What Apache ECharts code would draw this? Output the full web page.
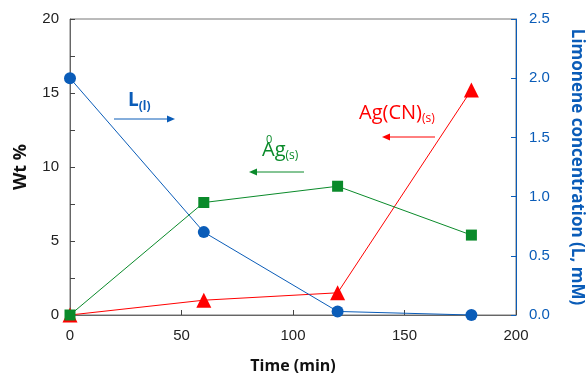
<!DOCTYPE html>
<html>
<head>
<meta charset="utf-8">
<script src="https://cdn.jsdelivr.net/npm/echarts@6/dist/echarts.min.js"></script>
<style>
  html, body { margin: 0; padding: 0; background: #fff; }
  #chart { width: 588px; height: 375px; }
</style>
</head>
<body>
<div id="chart"></div>
<script>
  // data
  var times = [0, 60, 120, 180];
  var agcn = [0, 1.0, 1.5, 15.2];       // Wt %
  var ag0 = [0, 7.6, 8.7, 5.4];         // Wt %
  var limonene = [2.0, 0.70, 0.03, 0.0]; // mM, right axis

  var blue = '#0a5cb8';
  var green = '#0a8a2a';
  var red = '#ff0000';

  function pairs(xs, ys) {
    return xs.map(function (x, i) { return [x, ys[i]]; });
  }

  var chart = echarts.init(document.getElementById('chart'));

  chart.setOption({
    animation: false,
    textStyle: { fontFamily: 'Liberation Sans' },
    grid: {
      left: 70, right: 72, top: 19, bottom: 60,
      outerBoundsMode: 'none', containLabel: false,
      show: true, borderColor: '#777', borderWidth: 1
    },
    xAxis: {
      type: 'value', min: 0, max: 200, interval: 50,
      axisLine: { lineStyle: { color: '#666' } },
      axisTick: { inside: true, length: 5, lineStyle: { color: '#444' } },
      axisLabel: { color: '#222', fontSize: 15, margin: 13 },
      splitLine: { show: false },
      name: 'Time (min)', nameLocation: 'middle', nameGap: 43,
      nameTextStyle: { fontFamily: 'Open Sans', fontWeight: 'bold', fontSize: 16, color: '#111' }
    },
    yAxis: [
      {
        type: 'value', min: 0, max: 20, interval: 5,
        axisLine: { show: true, lineStyle: { color: '#666' } },
        axisTick: { inside: true, length: 5, lineStyle: { color: '#444' } },
        minorTick: { show: true, splitNumber: 2, length: 5, lineStyle: { color: '#444' } },
        axisLabel: { color: '#222', fontSize: 15, margin: 11 },
        splitLine: { show: false },
        name: 'Wt %', nameLocation: 'middle', nameGap: 40,
        nameTextStyle: { fontFamily: 'Open Sans', fontWeight: 'bold', fontSize: 18, color: '#111' }
      },
      {
        type: 'value', min: 0, max: 2.5, interval: 0.5, position: 'right',
        axisLine: { show: true, lineStyle: { color: blue } },
        axisTick: { inside: true, length: 5, lineStyle: { color: blue } },
        axisLabel: { color: blue, fontSize: 15, margin: 13, formatter: function (v) { return v.toFixed(1); } },
        splitLine: { show: false },
        name: 'Limonene concentration (L, mM)', nameLocation: 'middle', nameGap: 52, nameRotate: -90,
        nameTextStyle: { fontFamily: 'Open Sans', fontWeight: 'bold', fontSize: 17, color: blue }
      }
    ],
    series: [
      {
        name: 'AgCN', type: 'line', data: pairs(times, agcn),
        symbol: 'triangle', symbolSize: 15,
        lineStyle: { color: red, width: 1 }, itemStyle: { color: red }
      },
      {
        name: 'L', type: 'line', yAxisIndex: 1, data: pairs(times, limonene),
        symbol: 'circle', symbolSize: 12,
        lineStyle: { color: blue, width: 1 }, itemStyle: { color: blue }
      },
      {
        name: 'Ag0', type: 'line', data: pairs(times, ag0),
        symbol: 'rect', symbolSize: 11,
        lineStyle: { color: green, width: 1 }, itemStyle: { color: green }
      }
    ],
    graphic: [
      // L(l) label and arrow
      {
        type: 'text', left: 128, top: 91,
        style: {
          text: '{a|L}{b|(l)}',
          rich: {
            a: { fontFamily: 'Open Sans', fontWeight: 'bold', fontSize: 19, fill: blue },
            b: { fontFamily: 'Open Sans', fontWeight: 'bold', fontSize: 12, fill: blue, padding: [12, 0, 0, 0] }
          }
        }
      },
      { type: 'line', shape: { x1: 114, y1: 119, x2: 168, y2: 119 }, style: { stroke: blue, lineWidth: 1 } },
      { type: 'polygon', shape: { points: [[175, 119], [167, 115.5], [167, 122.5]] }, style: { fill: blue } },
      // Ag0(s) label and arrow
      {
        type: 'text', left: 262, top: 140,
        style: {
          text: '{a|Ag}{b|(s)}',
          rich: {
            a: { fontFamily: 'Open Sans', fontSize: 20, fill: green },
            b: { fontFamily: 'Open Sans', fontSize: 12, fill: green, padding: [12, 0, 0, 0] }
          }
        }
      },
      { type: 'text', left: 266, top: 134, style: { text: '0', fontFamily: 'Open Sans', fontSize: 11, fill: green } },
      { type: 'line', shape: { x1: 304, y1: 172, x2: 256, y2: 172 }, style: { stroke: green, lineWidth: 1 } },
      { type: 'polygon', shape: { points: [[249, 172], [257, 168.5], [257, 175.5]] }, style: { fill: green } },
      // Ag(CN)(s) label and arrow
      {
        type: 'text', left: 359, top: 103,
        style: {
          text: '{a|Ag(CN)}{b|(s)}',
          rich: {
            a: { fontFamily: 'Open Sans', fontSize: 20, fill: red },
            b: { fontFamily: 'Open Sans', fontSize: 12, fill: red, padding: [12, 0, 0, 0] }
          }
        }
      },
      { type: 'line', shape: { x1: 435, y1: 137, x2: 389, y2: 137 }, style: { stroke: red, lineWidth: 1 } },
      { type: 'polygon', shape: { points: [[382, 137], [390, 133.5], [390, 140.5]] }, style: { fill: red } }
    ]
  });
</script>
</body>
</html>
